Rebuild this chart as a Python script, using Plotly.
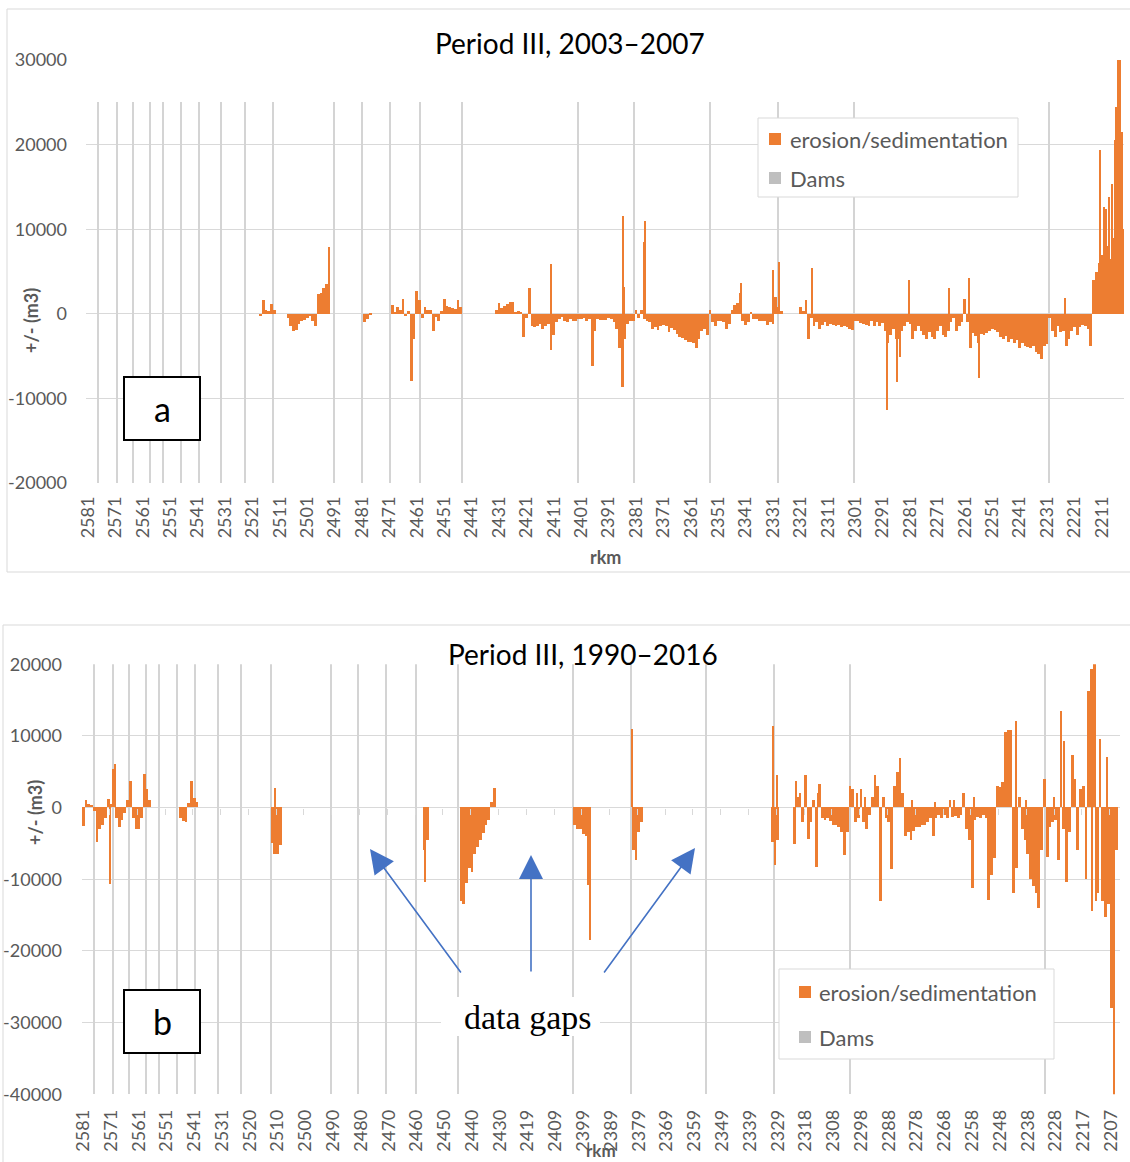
import plotly.graph_objects as go

W, H = 1130, 1162
ORANGE = "#ED7D31"
DAM_GRAY = "#D4D4D4"
LEG_GRAY = "#BFBFBF"
GRID = "#D9D9D9"
TXT = "#595959"
FONT = "Lato"
K = 1000  # values below are in thousand m3

# ---------------- Panel a: Period III, 2003-2007 (x = rkm) ----------------
a_tick_rkm = [2581, 2571, 2561, 2551, 2541, 2531, 2521, 2511, 2501, 2491, 2481, 2471,
              2461, 2451, 2441, 2431, 2421, 2411, 2401, 2391, 2381, 2371, 2361, 2351,
              2341, 2331, 2321, 2311, 2301, 2291, 2281, 2271, 2261, 2251, 2241, 2231,
              2221, 2211]
a_dams_rkm = [2577.4, 2570.4, 2564.6, 2558.4, 2553.6, 2547.1, 2540.5, 2532.5, 2523.7,
              2513.5, 2491.2, 2481.0, 2470.8, 2459.8, 2444.5, 2402.2, 2381.7, 2354.0,
              2329.2, 2301.4, 2230.3]
a_dam_top = 25000
a_dam_bottom = -20000

# segments: first rkm, then one value per km going downstream (thousand m3)
a_seg1_start = 2518
a_seg1 = [-0.3, 1.6, 0.4, 0.3, 1.2, 0.5]
a_seg2_start = 2508
a_seg2 = [-0.5, -1.5, -2.0, -1.9, -1.2, -0.9, -0.7, -0.5, -0.3, -0.8, -1.4,
          2.3, 2.5, 3.0, 3.5, 7.9]
a_seg3_start = 2480
a_seg3 = [-1.0, -0.6, -0.2]
a_seg4_start = 2470
a_seg4 = [1.0, 0.2, 0.8, 0.5, 1.8, -0.3, 0.3, -8.0, -3.0, 2.7, 1.6, -0.5, 0.8,
          0.5, 0.4, -2.0, -0.4, -0.8, 0.3, 1.7, 0.9, 0.8, 0.7, 0.6, 1.6, 0.8]
a_seg5_start = 2432
a_seg5 = [0.5, 1.3, 0.7, 0.9, 1.1, 1.4, 1.4, 0.1, 0.3, 0.2,          # 2432-2423
          -2.8, -0.5, 3.0, -1.5, -1.6, -1.5, -1.2, -1.8, -1.5, -1.2,  # 2422-2413
          -4.3, -2.5, -1.0, -0.6, -0.4, -0.9, -1.0, -0.6, -0.8, -0.9, # 2412-2403
          -0.6, -0.6, -0.5, -0.8, -0.6, -6.2, -2.0, -0.6, -0.7, -0.7, # 2402-2393
          -0.7, -0.5, -0.6, -1.0, -1.8, -4.0, -8.6, -3.0, -1.2, -0.9, # 2392-2383
          -0.8, 0.5, -0.5, 0.4, -0.6, -0.9, -1.0, -1.8, -1.6, -1.9,   # 2382-2373
          -1.5, -1.3, -1.5, -2.2, -1.7, -1.9, -2.4, -2.7, -2.9, -3.1, # 2372-2363
          -3.3, -3.3, -3.4, -4.0, -3.0, -2.0, -1.8, -2.5, 0.5, -1.0,  # 2362-2353
          -1.5, -0.8, -0.9, -1.0, -1.8, -1.2, 0.5, 1.0, 1.3, 2.5,     # 2352-2343
          -0.8, -1.3, -1.0, 0.2, -0.6, -0.6, -0.8, -0.9, -0.8, -1.3,  # 2342-2333
          -1.0, -1.2, 2.0, 0.8, 0.3]                                  # 2332-2328
a_seg6_start = 2321
a_seg6 = [0.8, 0.3, 1.6, -3.0, -0.5, -1.5, -1.0, -1.8, -1.3, -1.0,   # 2321-2312
          -1.4, -1.2, -1.3, -1.5, -1.3, -1.6, -1.5, -1.6, -1.8, -1.9, # 2311-2302
          -0.8, -0.9, -1.1, -1.2, -1.3, -1.4, -0.8, -1.5, -1.0, -1.4, # 2301-2292
          -1.1, -2.0, -3.5, -2.5, -1.8, -3.0, -3.0, -2.0, -1.5, -1.0, # 2291-2282
          -1.2, -3.0, -2.0, -1.5, -2.0, -2.5, -3.0, -2.2, -2.8, -3.0, # 2281-2272
          -2.0, -1.5, -2.5, -2.8, -2.0, -1.0, -0.5, -2.0, -1.5, -1.0, # 2271-2262
          1.8, -1.0, -4.0, -2.3, -2.6, -3.5, -2.4, -2.5, -2.3, -2.0,  # 2261-2252
          -1.8, -1.9, -2.2, -2.7, -3.0, -2.6, -3.3, -3.0, -3.5, -3.1, # 2251-2242
          -4.0, -3.4, -3.8, -3.9, -4.0, -3.8, -4.5, -4.8, -5.4, -3.8, # 2241-2232
          -3.6, -0.5, -2.0, -2.8, -1.5, -2.2, -2.0, -3.8, -3.0, -2.0, # 2231-2222
          -1.6, -2.5, -1.6, -1.3, -1.4, -1.8, -3.8,                   # 2221-2215
          4.0, 5.0, 6.0, 7.0, 5.5, 8.0, 6.5, 9.0, 10.0, 14.0, 12.0, 10.0]  # 2214-2203
# narrow single spikes (rkm, thousand m3)
a_peak_rkm = [2412.0, 2385.9, 2385.5, 2378.0, 2377.7, 2342.8, 2331.0, 2328.8, 2316.8,
              2289.4, 2285.8, 2284.8, 2281.3, 2266.9, 2259.4, 2256.0, 2224.3,
              2211.7, 2210.3, 2209.5, 2208.4, 2207.4, 2206.4, 2205.7, 2205.0, 2204.4, 2203.6]
a_peak_val = [5.9, 11.6, 3.2, 8.5, 11.0, 3.6, 5.2, 6.1, 5.4,
              -11.4, -8.1, -5.1, 4.0, 3.1, 4.2, -7.6, 1.9,
              19.4, 12.6, 12.4, 13.8, 15.4, 20.5, 24.4, 30.0, 30.0, 21.5]

# ---------------- Panel b: Period III, 1990-2016 (category positions) ----------------
b_tick_labels = ["2581", "2571", "2561", "2551", "2541", "2531", "2520", "2510", "2500",
                 "2490", "2480", "2470", "2460", "2450", "2440", "2430", "2419", "2409",
                 "2399", "2389", "2379", "2369", "2359", "2349", "2339", "2329", "2318",
                 "2308", "2298", "2288", "2278", "2268", "2258", "2248", "2238", "2228",
                 "2217", "2207"]
b_tick_pos = [0, 10, 20, 30, 40, 50, 60, 70, 80, 90, 100, 110, 120, 130, 140, 150, 160,
              170, 180, 190, 200, 210, 220, 230, 240, 250, 260, 270, 280, 290, 300, 310,
              320, 330, 340, 350, 360, 370]
b_dams_pos = [4.0, 10.8, 16.4, 22.8, 27.3, 33.8, 40.3, 48.6, 56.9, 67.5, 89.1, 99.0,
              109.2, 120.0, 135.1, 176.3, 197.2, 224.2, 248.8, 276.0, 346.4]
b_dam_top = 20000
b_dam_bottom = -40000

b_seg1_start = 0
b_seg1 = [-2.6, 1.0, 0.4, 0.3, -0.5, -4.8, -3.0, -2.5, -1.5, 1.2, 0.5, 5.4, -1.5,
          -2.8, -1.8, -0.8, 1.0, 3.7, -1.5, -3.0, -3.0, -1.5, 4.6, 2.5, 1.0]
b_seg2_start = 35
b_seg2 = [-1.5, -1.9, -2.0, 0.6, 3.7, 1.3, 0.8]
b_seg3_start = 68
b_seg3 = [-5.0, -6.5, -6.5, -5.2]
b_seg4_start = 123
b_seg4 = [-6.0, -4.5]
b_seg5_start = 136
b_seg5 = [-13.0, -13.5, -10.5, -8.5, -9.0, -6.5, -5.5, -4.6, -3.6, -2.5, -1.7, 0.8, 2.7]
b_seg6_start = 177
b_seg6 = [-2.5, -3.0, -3.0, -3.7, -4.0, -10.8]
b_seg7_start = 198
b_seg7 = [-6.0, -7.3, -3.5, -2.0]
b_seg8_start = 248
b_seg8 = [-4.8, -8.1, -4.6]
b_seg9_start = 256
b_seg9 = [-5.1, 1.5, 2.0, -2.0, 4.5, -4.4, -2.0, 1.0, -8.3, 3.3,        # 256-265
          -1.5, -1.7, -1.5, -1.9, -2.5, -2.5, -2.8, -3.5, -6.7, -3.5,   # 266-275
          3.0, 2.5, -2.0, -1.5, 2.5, -2.0, -3.0, -1.0, 1.5, 4.5,        # 276-285
          3.0, -13.0, 1.5, -1.5, -2.0, -8.6, 3.0, 5.0, 6.9, 2.0,        # 286-295
          -4.0, -3.5, -4.5, -3.3, -2.8, -2.7, -2.5, -2.4, -2.0, -1.5,   # 296-305
          -4.0, -1.5, -1.0, -1.5, -1.1, -1.5, 1.0, -1.3, -1.2, -1.5,    # 306-315
          -1.0, 2.0, -3.0, -4.5, -11.2, -1.8, -1.3, -1.5, -1.0, -1.5,   # 316-325
          -12.9, -9.5, -7.0, 3.0, 2.8, 3.5, 10.5, 10.8, 10.8, -12.0,    # 326-335
          -8.5, 1.5, -3.0, -4.5, -6.5, -10.0, -11.0, -12.0, -14.1, -6.0, # 336-345
          4.0, -6.9, -2.8, -2.0, -1.8, -7.3, 13.5, -3.0, -10.4, -3.5,   # 346-355
          7.3, 4.0, -6.0, 2.5, 3.0, -10.0, 16.3, 19.3, 20.0, -12.0,     # 356-365
          9.5, -13.0, -15.3, -13.5, -28.0, -42.0, -6.0]                 # 366-372
b_peak_pos = [9.9, 11.6, 69.1, 123.0, 182.6, 197.6, 248.5, 249.9, 256.5, 264.6, 278.6,
              281.5, 298.5, 306.5, 313.5, 320.6, 335.9, 339.5, 349.5, 353.0, 363.2,
              364.6, 368.6]
b_peak_val = [-10.7, 6.0, 2.7, -10.4, -18.5, 10.9, 11.4, 4.5, 3.7, 2.0, 2.0,
              1.5, 1.0, 0.8, 1.0, 1.5, 12.0, 1.0, 1.5, 9.3, -14.4,
              -13.0, 7.0]


def build(segments, step, peak_x, peak_v, base_w, peak_w):
    xs, ys, ws = [], [], []
    for start, vals in segments:
        for i, v in enumerate(vals):
            xs.append(start + step * i)
            ys.append(v * K)
            ws.append(base_w)
    for x, v in zip(peak_x, peak_v):
        xs.append(x)
        ys.append(v * K)
        ws.append(peak_w)
    return xs, ys, ws


a_x, a_y, a_w = build([(a_seg1_start, a_seg1), (a_seg2_start, a_seg2), (a_seg3_start, a_seg3),
                       (a_seg4_start, a_seg4), (a_seg5_start, a_seg5), (a_seg6_start, a_seg6)],
                      -1, a_peak_rkm, a_peak_val, 1.0, 0.45)
b_x, b_y, b_w = build([(b_seg1_start, b_seg1), (b_seg2_start, b_seg2), (b_seg3_start, b_seg3),
                       (b_seg4_start, b_seg4), (b_seg5_start, b_seg5), (b_seg6_start, b_seg6),
                       (b_seg7_start, b_seg7), (b_seg8_start, b_seg8), (b_seg9_start, b_seg9)],
                      1, b_peak_pos, b_peak_val, 1.0, 0.45)

fig = go.Figure()
common = dict(hoverinfo="skip", showlegend=False)
DAM_W = 0.42
# panel a
fig.add_trace(go.Bar(x=a_dams_rkm, y=[a_dam_top] * len(a_dams_rkm), width=DAM_W,
                     marker=dict(color=DAM_GRAY, line=dict(width=0)), xaxis="x", yaxis="y", **common))
fig.add_trace(go.Bar(x=a_dams_rkm, y=[a_dam_bottom] * len(a_dams_rkm), width=DAM_W,
                     marker=dict(color=DAM_GRAY, line=dict(width=0)), xaxis="x", yaxis="y", **common))
fig.add_trace(go.Bar(x=a_x, y=a_y, width=a_w, marker=dict(color=ORANGE, line=dict(width=0)),
                     xaxis="x", yaxis="y", **common))
# panel b
fig.add_trace(go.Bar(x=b_dams_pos, y=[b_dam_top] * len(b_dams_pos), width=DAM_W,
                     marker=dict(color=DAM_GRAY, line=dict(width=0)), xaxis="x2", yaxis="y2", **common))
fig.add_trace(go.Bar(x=b_dams_pos, y=[b_dam_bottom] * len(b_dams_pos), width=DAM_W,
                     marker=dict(color=DAM_GRAY, line=dict(width=0)), xaxis="x2", yaxis="y2", **common))
fig.add_trace(go.Bar(x=b_x, y=b_y, width=b_w, marker=dict(color=ORANGE, line=dict(width=0)),
                     xaxis="x2", yaxis="y2", **common))
# invisible trace carrying the zero-line tick axis of panel b
fig.add_trace(go.Scatter(x=[0], y=[0], mode="markers", marker=dict(opacity=0),
                         xaxis="x3", yaxis="y2", **common))


def px(x):
    return x / W


def py(y):
    return 1 - y / H


a_dom_x = [px(86), px(1124)]
a_dom_y = [py(483), py(60)]
b_dom_x = [px(82), px(1120)]
b_dom_y = [py(1094.3), py(664.3)]
a_range_x = [2581.73, 2202.9]
b_range_x = [-0.4, 373.2]
a_yticks = [-20000, -10000, 0, 10000, 20000, 30000]
b_yticks = [-40000, -30000, -20000, -10000, 0, 10000, 20000]
tickfont = dict(family=FONT, size=18, color=TXT)

zero_frac = b_dom_y[0] + (0 - b_yticks[0]) / (b_yticks[-1] - b_yticks[0]) * (b_dom_y[1] - b_dom_y[0])
b_zero_ticks = [p - 0.5 for p in b_tick_pos[1:]]

fig.update_layout(
    width=W, height=H, margin=dict(l=0, r=0, t=0, b=0), template="none",
    paper_bgcolor="white", plot_bgcolor="rgba(0,0,0,0)", barmode="overlay", bargap=0,
    showlegend=False,
    xaxis=dict(domain=a_dom_x, range=a_range_x, anchor="y", tickmode="array",
               tickvals=a_tick_rkm, ticktext=[str(v) for v in a_tick_rkm], tickangle=-90,
               showgrid=False, zeroline=False, showline=False, ticks="", tickfont=tickfont,
               ticklabelstandoff=9),
    yaxis=dict(domain=a_dom_y, range=[a_yticks[0], a_yticks[-1]], anchor="x", tickmode="array",
               tickvals=a_yticks, ticktext=[str(v) for v in a_yticks], showgrid=True,
               gridcolor=GRID, gridwidth=1, zeroline=False, showline=False, ticks="",
               tickfont=tickfont, ticklabelstandoff=18),
    xaxis2=dict(domain=b_dom_x, range=b_range_x, anchor="y2", tickmode="array",
                tickvals=b_tick_pos, ticktext=b_tick_labels, tickangle=-90,
                showgrid=False, zeroline=False, showline=False, ticks="", tickfont=tickfont,
                ticklabelstandoff=11),
    yaxis2=dict(domain=b_dom_y, range=[b_yticks[0], b_yticks[-1]], anchor="x2", tickmode="array",
                tickvals=b_yticks, ticktext=[str(v) for v in b_yticks], showgrid=True,
                gridcolor=GRID, gridwidth=1, zeroline=False, showline=False, ticks="",
                tickfont=tickfont, ticklabelstandoff=19),
    xaxis3=dict(domain=b_dom_x, range=b_range_x, overlaying="x2", anchor="free",
                position=zero_frac, tickmode="array", tickvals=b_zero_ticks, ticks="outside",
                ticklen=6, tickcolor=GRID, tickwidth=1, showticklabels=False, showgrid=False,
                zeroline=False, showline=False),
)

shapes = []


def rect(x0, y0, x1, y1, fill=None, line_color=None, lw=1, layer="above"):
    shapes.append(dict(type="rect", xref="paper", yref="paper", x0=px(x0), x1=px(x1),
                       y0=py(y1), y1=py(y0), fillcolor=fill or "rgba(0,0,0,0)",
                       line=dict(color=line_color or "rgba(0,0,0,0)", width=lw if line_color else 0),
                       layer=layer))


# chart frames
rect(7, 9, 1140, 572, line_color=GRID, layer="below")
rect(3, 625, 1140, 1172, line_color=GRID, layer="below")
# legends
rect(758, 118, 1018, 197, fill="white", line_color=GRID)
rect(769, 133, 781, 145, fill=ORANGE)
rect(769, 172, 781, 184, fill=LEG_GRAY)
rect(779, 969, 1054, 1059, fill="white", line_color=GRID)
rect(799, 986, 811, 998, fill=ORANGE)
rect(799, 1031, 811, 1043, fill=LEG_GRAY)
# panel label boxes
rect(124, 377, 200, 440, fill="white", line_color="black", lw=2)
rect(124, 990, 200, 1053, fill="white", line_color="black", lw=2)
# white background of the "data gaps" label
rect(441, 997, 600, 1036, fill="white")

ann = []


def text(x, y, s, size, color=TXT, family=FONT, xanchor="center", angle=0):
    ann.append(dict(x=px(x), y=py(y), xref="paper", yref="paper", text=s, showarrow=False,
                    xanchor=xanchor, yanchor="middle", textangle=angle,
                    font=dict(family=family, size=size, color=color)))


text(570, 43, "Period III, 2003\u20132007", 28, color="black")
text(583, 654, "Period III, 1990\u20132016", 28, color="black")
text(31, 321, "<b>+/- (m3)</b>", 18, angle=-90)
text(35, 813, "<b>+/- (m3)</b>", 18, angle=-90)
text(605, 557, "<b>rkm</b>", 18)
text(601, 1150, "<b>rkm</b>", 17)
text(788, 139, "erosion/sedimentation", 22, xanchor="left")
text(788, 178, "Dams", 22, xanchor="left")
text(817, 992, "erosion/sedimentation", 22, xanchor="left")
text(817, 1037, "Dams", 22, xanchor="left")
text(162, 408, "a", 34, color="black")
text(162, 1021, "b", 34, color="black")
text(527, 1017, "data gaps", 34, color="black", family="Liberation Serif")

arrows = [((370, 849), (462, 974)), ((531, 855), (531, 973)), ((695, 848), (603, 974))]
for (hx, hy), (tx, ty) in arrows:
    ann.append(dict(x=px(hx), y=py(hy), xref="paper", yref="paper", text="", showarrow=True,
                    ax=tx - hx, ay=ty - hy, axref="pixel", ayref="pixel", arrowhead=2,
                    arrowsize=3.0, arrowwidth=1.6, arrowcolor="#4472C4", standoff=0))

fig.update_layout(shapes=shapes, annotations=ann)
fig.write_html("out.html", config={"displayModeBar": False},
               post_script="document.body.style.margin='0px';")
